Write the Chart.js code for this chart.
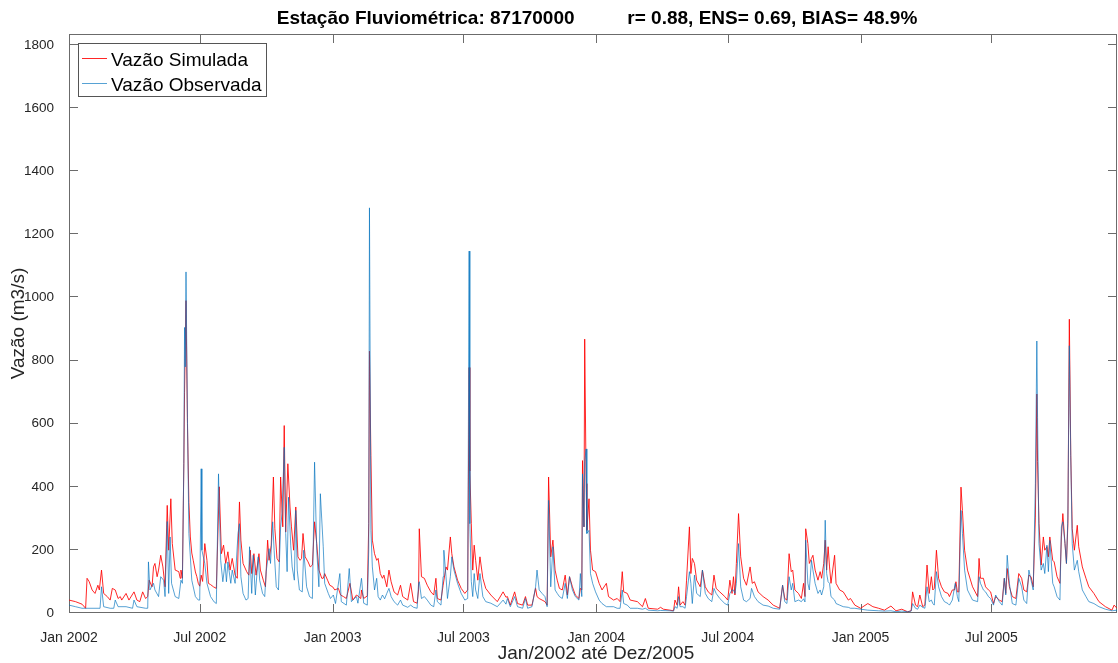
<!DOCTYPE html>
<html>
<head>
<meta charset="utf-8">
<script src="https://cdn.jsdelivr.net/npm/chart.js@4.4.0/dist/chart.umd.min.js"></script>
<style>
  html, body { margin: 0; padding: 0; background: #fff; }
  #chart { display: block; }
</style>
</head>
<body>
<canvas id="chart" width="1118" height="663"></canvas>
<script>
// dias contados a partir de 01/01/2002
const tickDays = [0, 181, 365, 546, 730, 912, 1096, 1277];
const tickLabels = ["Jan 2002", "Jul 2002", "Jan 2003", "Jul 2003", "Jan 2004", "Jul 2004", "Jan 2005", "Jul 2005"];
const yTicks = [0, 200, 400, 600, 800, 1000, 1200, 1400, 1600, 1800];

const titleText = "Estação Fluviométrica: 87170000" + " ".repeat(10) + "r= 0.88, ENS= 0.69, BIAS= 48.9%";
const xTitle = "Jan/2002 até Dez/2005";
const yTitle = "Vazão (m3/s)";
const seriesNames = ["Vazão Simulada", "Vazão Observada"];

// Vazão simulada (vermelho)
const simDays = [
  0, 9, 18, 23, 25, 28, 32, 36, 40, 42,
  45, 48, 53, 57, 60, 64, 68, 71, 73, 79,
  83, 90, 94, 98, 102, 106, 109, 111, 115, 117,
  119, 122, 124, 127, 130, 133, 136, 138, 141, 143,
  147, 152, 154, 155, 157, 159, 160, 162, 164, 166,
  168, 170, 172, 175, 177, 179, 181, 183, 185, 188,
  191, 193, 196, 200, 204, 208, 211, 214, 217, 220,
  223, 226, 230, 233, 236, 238, 241, 246, 249, 251,
  253, 256, 259, 263, 265, 269, 272, 275, 277, 280,
  283, 285, 288, 291, 293, 296, 298, 300, 303, 306,
  308, 311, 314, 317, 320, 322, 324, 327, 331, 334,
  337, 340, 343, 346, 350, 352, 354, 358, 361, 365,
  368, 373, 376, 380, 384, 389, 393, 398, 400, 404,
  405, 408, 413, 415, 416, 418, 420, 423, 426, 428,
  431, 434, 436, 440, 443, 446, 450, 455, 459, 462,
  469, 473, 477, 482, 484, 485, 488, 492, 496, 501,
  505, 508, 510, 515, 518, 522, 524, 528, 530, 533,
  538, 543, 548, 552, 554, 555, 557, 559, 561, 563,
  566, 569, 573, 577, 584, 593, 601, 605, 607, 611,
  617, 621, 628, 632, 635, 641, 646, 648, 651, 655,
  659, 662, 664, 667, 670, 673, 676, 679, 683, 687,
  690, 693, 697, 701, 706, 708, 710, 711, 713, 714,
  716, 717, 720, 722, 725, 729, 734, 738, 744, 747,
  754, 759, 763, 766, 768, 773, 777, 787, 794, 798,
  802, 815, 819, 823, 832, 837, 839, 842, 844, 846,
  850, 853, 855, 859, 861, 863, 866, 869, 874, 877,
  881, 885, 890, 893, 896, 901, 908, 912, 915, 918,
  920, 922, 924, 927, 930, 934, 938, 943, 946, 949,
  954, 961, 968, 975, 984, 988, 991, 994, 997, 1000,
  1002, 1005, 1010, 1014, 1017, 1019, 1020, 1023, 1025, 1028,
  1030, 1033, 1037, 1040, 1042, 1045, 1047, 1049, 1051, 1053,
  1055, 1060, 1062, 1067, 1072, 1079, 1082, 1088, 1096, 1106,
  1113, 1121, 1129, 1138, 1145, 1153, 1161, 1166, 1168, 1172,
  1175, 1178, 1182, 1185, 1188, 1191, 1194, 1196, 1198, 1201,
  1204, 1208, 1212, 1217, 1219, 1223, 1226, 1228, 1230, 1232,
  1235, 1237, 1240, 1244, 1251, 1258, 1260, 1262, 1266, 1269,
  1273, 1276, 1280, 1283, 1288, 1292, 1295, 1297, 1299, 1302,
  1306, 1311, 1315, 1319, 1322, 1326, 1329, 1332, 1335, 1338,
  1340, 1341, 1343, 1346, 1349, 1351, 1354, 1356, 1358, 1362,
  1364, 1368, 1372, 1374, 1376, 1379, 1381, 1383, 1385, 1387,
  1389, 1392, 1396, 1398, 1403, 1408, 1412, 1419, 1426, 1435,
  1444, 1447, 1451
];
const simValues = [
  41, 36, 28, 15, 110, 99, 73, 62, 88, 73,
  136, 62, 52, 41, 78, 73, 46, 52, 41, 62,
  41, 67, 41, 36, 67, 46, 52, 104, 83, 146,
  157, 115, 136, 183, 146, 83, 341, 199, 362, 220,
  136, 131, 110, 136, 110, 473, 700, 990, 600, 350,
  241, 190, 167, 130, 115, 94, 85, 120, 100, 220,
  167, 94, 90, 83, 78, 400, 188, 215, 157, 194,
  136, 173, 120, 110, 352, 231, 157, 131, 120, 199,
  125, 188, 120, 188, 136, 104, 83, 231, 167, 215,
  431, 267, 173, 162, 431, 273, 594, 257, 473, 336,
  273, 199, 336, 178, 167, 173, 252, 178, 162, 146,
  152, 289, 220, 136, 110, 110, 125, 104, 88, 83,
  73, 78, 57, 52, 46, 94, 41, 57, 54, 46,
  73, 46, 54, 283, 830, 500, 231, 188, 167, 173,
  125, 110, 120, 83, 136, 99, 67, 57, 88, 52,
  41, 94, 36, 31, 73, 267, 115, 110, 88, 67,
  57, 110, 46, 41, 88, 146, 136, 241, 188, 146,
  104, 78, 62, 73, 778, 450, 283, 136, 215, 167,
  104, 178, 110, 78, 57, 36, 67, 50, 52, 25,
  67, 30, 25, 52, 25, 25, 78, 52, 46, 41,
  36, 25, 431, 178, 231, 136, 104, 78, 73, 120,
  57, 115, 83, 57, 46, 78, 73, 483, 273, 868,
  410, 262, 362, 199, 136, 131, 94, 73, 94, 52,
  41, 46, 36, 131, 67, 62, 41, 36, 20, 46,
  15, 12, 18, 12, 9, 7, 41, 25, 83, 25,
  36, 25, 104, 273, 125, 173, 157, 104, 83, 136,
  83, 67, 57, 120, 78, 67, 52, 41, 104, 62,
  115, 57, 157, 315, 178, 110, 88, 146, 94, 99,
  67, 52, 41, 25, 15, 88, 46, 41, 188, 131,
  136, 73, 62, 46, 94, 52, 267, 220, 157, 173,
  183, 136, 104, 131, 110, 157, 231, 136, 210, 146,
  94, 183, 94, 73, 67, 41, 46, 25, 15, 30,
  20, 15, 9, 22, 7, 12, 4, 7, 67, 25,
  20, 57, 20, 25, 152, 62, 115, 73, 78, 199,
  110, 83, 67, 62, 52, 73, 73, 99, 67, 67,
  399, 325, 199, 136, 83, 52, 173, 110, 110, 83,
  73, 67, 30, 52, 41, 36, 110, 62, 141, 83,
  52, 46, 125, 110, 73, 67, 120, 115, 83, 304,
  694, 480, 283, 152, 241, 199, 210, 178, 241, 167,
  162, 115, 94, 241, 315, 220, 157, 283, 931, 500,
  267, 199, 278, 210, 146, 110, 83, 62, 36, 20,
  9, 25, 15
];

// Vazão observada (azul)
const obsDays = [
  0, 9, 18, 25, 36, 43, 45, 48, 57, 62,
  64, 68, 79, 88, 90, 94, 106, 109, 110, 112,
  117, 119, 124, 127, 131, 133, 136, 138, 140, 142,
  147, 152, 155, 157, 159, 160, 161, 162, 164, 166,
  170, 175, 179, 181, 183, 184, 188, 191, 196, 201,
  204, 207, 210, 213, 216, 218, 220, 224, 226, 230,
  234, 236, 238, 241, 245, 248, 250, 253, 255, 258,
  262, 264, 268, 271, 273, 277, 279, 282, 284, 287,
  290, 293, 295, 298, 300, 302, 304, 307, 309, 312,
  314, 316, 319, 323, 325, 329, 333, 337, 340, 343,
  346, 348, 352, 354, 359, 362, 366, 369, 375, 377,
  384, 388, 391, 398, 400, 405, 408, 413, 415, 416,
  418, 420, 423, 426, 428, 431, 434, 437, 440, 443,
  446, 450, 455, 459, 462, 469, 473, 477, 482, 484,
  485, 488, 492, 496, 501, 505, 508, 510, 515, 518,
  519, 522, 524, 528, 530, 533, 538, 543, 548, 552,
  554, 555, 557, 559, 561, 563, 566, 569, 573, 577,
  584, 593, 601, 605, 607, 611, 617, 621, 628, 632,
  635, 641, 646, 648, 651, 655, 659, 662, 664, 667,
  670, 673, 676, 679, 683, 687, 690, 693, 697, 701,
  706, 708, 710, 711, 713, 714, 716, 717, 720, 722,
  725, 729, 734, 738, 744, 754, 759, 763, 766, 768,
  773, 777, 787, 794, 798, 802, 815, 819, 832, 837,
  839, 842, 844, 846, 850, 853, 855, 859, 861, 863,
  866, 869, 874, 877, 881, 885, 890, 893, 896, 901,
  908, 912, 915, 918, 920, 922, 924, 927, 930, 934,
  938, 943, 945, 949, 954, 961, 968, 975, 984, 988,
  991, 994, 997, 1000, 1002, 1005, 1010, 1014, 1017, 1019,
  1020, 1023, 1025, 1028, 1030, 1033, 1037, 1040, 1042, 1045,
  1047, 1049, 1051, 1053, 1055, 1060, 1062, 1067, 1072, 1079,
  1082, 1088, 1096, 1106, 1121, 1129, 1138, 1145, 1153, 1161,
  1166, 1168, 1172, 1175, 1178, 1182, 1185, 1188, 1191, 1194,
  1196, 1198, 1201, 1204, 1208, 1212, 1217, 1219, 1223, 1227,
  1230, 1232, 1235, 1237, 1240, 1244, 1251, 1258, 1260, 1262,
  1266, 1269, 1273, 1276, 1280, 1283, 1288, 1292, 1295, 1297,
  1299, 1302, 1306, 1311, 1315, 1319, 1322, 1326, 1329, 1332,
  1335, 1338, 1340, 1341, 1343, 1346, 1349, 1351, 1354, 1356,
  1358, 1362, 1364, 1368, 1372, 1374, 1376, 1379, 1381, 1383,
  1385, 1387, 1389, 1392, 1396, 1398, 1403, 1408, 1412, 1419,
  1426, 1435, 1444, 1451
];
const obsValues = [
  25, 20, 15, 15, 15, 15, 83, 20, 15, 15,
  41, 20, 20, 15, 41, 20, 15, 15, 162, 73,
  94, 73, 52, 115, 104, 52, 290, 62, 241, 94,
  52, 46, 104, 94, 473, 905, 780, 1081, 620, 252,
  104, 52, 41, 41, 457, 199, 157, 94, 52, 35,
  30, 441, 167, 99, 157, 99, 162, 94, 136, 94,
  252, 283, 115, 62, 41, 46, 210, 62, 183, 57,
  178, 104, 62, 52, 131, 204, 157, 289, 199, 83,
  73, 273, 315, 525, 252, 131, 367, 215, 146, 104,
  325, 136, 73, 67, 199, 83, 52, 46, 478, 199,
  83, 378, 210, 94, 62, 46, 57, 30, 125, 36,
  25, 141, 36, 52, 31, 110, 31, 25, 200, 1284,
  262, 146, 73, 110, 52, 41, 57, 45, 62, 78,
  52, 36, 25, 41, 25, 18, 25, 18, 15, 94,
  99, 46, 52, 41, 25, 20, 73, 36, 25, 115,
  199, 115, 46, 115, 178, 136, 94, 62, 41, 46,
  1147, 283, 100, 52, 125, 73, 46, 125, 52, 36,
  31, 20, 41, 28, 46, 20, 52, 20, 15, 46,
  15, 20, 83, 136, 73, 62, 52, 20, 357, 83,
  210, 73, 62, 52, 46, 94, 46, 115, 73, 52,
  41, 125, 52, 441, 273, 480, 520, 252, 262, 125,
  94, 67, 41, 30, 20, 20, 15, 15, 73, 30,
  25, 15, 15, 12, 15, 9, 7, 8, 7, 6,
  20, 15, 52, 20, 20, 15, 52, 131, 94, 30,
  120, 62, 52, 136, 62, 46, 36, 78, 62, 46,
  30, 25, 62, 73, 73, 62, 94, 220, 83, 41,
  36, 46, 78, 52, 36, 25, 22, 15, 12, 88,
  36, 30, 115, 73, 94, 36, 41, 36, 45, 35,
  231, 94, 73, 167, 136, 94, 62, 73, 57, 83,
  294, 125, 99, 94, 52, 41, 30, 25, 20, 18,
  15, 15, 12, 9, 7, 6, 7, 4, 6, 4,
  6, 30, 15, 12, 25, 18, 15, 83, 36, 41,
  30, 25, 131, 83, 52, 36, 30, 25, 41, 94,
  52, 36, 325, 252, 136, 73, 41, 36, 115, 94,
  73, 67, 52, 46, 25, 57, 36, 25, 110, 57,
  183, 94, 30, 25, 110, 83, 41, 30, 136, 104,
  73, 410, 862, 620, 220, 136, 157, 125, 215, 131,
  230, 94, 83, 52, 41, 273, 289, 220, 157, 304,
  847, 494, 220, 136, 167, 131, 73, 52, 36, 30,
  20, 12, 7, 9
];

const simColor = "rgba(255, 0, 0, 0.85)";
const obsColor = "rgba(0, 114, 189, 0.66)";
const axisColor = "#6b6b6b";
const FONT = "'Liberation Sans', Arial, Helvetica, sans-serif";

function toPoints(days, values) {
  const n = Math.min(days.length, values.length);
  const pts = [];
  for (let i = 0; i < n; i++) pts.push({ x: days[i], y: values[i] });
  return pts;
}

// moldura estilo MATLAB, com ticks para dentro
const framePlugin = {
  id: "frame",
  beforeDatasetsDraw(chart) {
    const { ctx, chartArea: a, scales } = chart;
    ctx.save();
    ctx.strokeStyle = axisColor;
    ctx.lineWidth = 1;
    ctx.strokeRect(a.left + 0.5, a.top + 0.5, a.right - a.left - 1, a.bottom - a.top - 1);
    ctx.beginPath();
    tickDays.forEach(d => {
      const x = Math.round(scales.x.getPixelForValue(d)) + 0.5;
      ctx.moveTo(x, a.bottom); ctx.lineTo(x, a.bottom - 9);
      ctx.moveTo(x, a.top); ctx.lineTo(x, a.top + 9);
    });
    yTicks.forEach(v => {
      const y = Math.round(scales.y.getPixelForValue(v)) - 0.5;
      ctx.moveTo(a.left, y); ctx.lineTo(a.left + 9, y);
      ctx.moveTo(a.right, y); ctx.lineTo(a.right - 9, y);
    });
    ctx.stroke();
    ctx.restore();
  },
  afterDraw(chart) {
    const { ctx, chartArea: a } = chart;
    ctx.save();
    // titulo
    ctx.fillStyle = "#000";
    ctx.font = "bold 19px " + FONT;
    ctx.textAlign = "center";
    ctx.textBaseline = "alphabetic";
    ctx.fillText(titleText, 597, 24);

    // rotulos dos eixos
    ctx.fillStyle = "#262626";
    ctx.font = "19px " + FONT;
    ctx.fillText(xTitle, 596, 659);
    ctx.save();
    ctx.translate(24, (a.top + a.bottom) / 2);
    ctx.rotate(-Math.PI / 2);
    ctx.fillText(yTitle, 0, 0);
    ctx.restore();

    // legenda
    ctx.fillStyle = "#fff";
    ctx.fillRect(79, 44, 187, 52);
    ctx.strokeStyle = "#555";
    ctx.lineWidth = 1;
    ctx.strokeRect(78.5, 43.5, 188, 53);
    const rows = [[seriesNames[0], simColor, 58.5, 65.5], [seriesNames[1], obsColor, 83.5, 90.5]];
    ctx.textAlign = "left";
    rows.forEach(([name, color, ly, ty]) => {
      ctx.strokeStyle = color;
      ctx.beginPath();
      ctx.moveTo(82, ly); ctx.lineTo(107, ly);
      ctx.stroke();
      ctx.fillStyle = "#000";
      ctx.fillText(name, 111, ty);
    });
    ctx.restore();
  }
};

const ctx = document.getElementById("chart").getContext("2d");
new Chart(ctx, {
  type: "line",
  data: {
    datasets: [
      {
        label: seriesNames[0],
        data: toPoints(simDays, simValues),
        borderColor: simColor,
        borderWidth: 1,
        pointRadius: 0,
        tension: 0,
        order: 2
      },
      {
        label: seriesNames[1],
        data: toPoints(obsDays, obsValues),
        borderColor: obsColor,
        borderWidth: 1,
        pointRadius: 0,
        tension: 0,
        order: 1
      }
    ]
  },
  options: {
    responsive: false,
    animation: false,
    devicePixelRatio: 1,
    layout: { padding: { top: 34, right: 1, left: 0, bottom: 0 } },
    plugins: {
      legend: { display: false },
      tooltip: { enabled: false },
      title: { display: false }
    },
    scales: {
      x: {
        type: "linear",
        min: 0,
        max: 1451,
        grid: { display: false },
        border: { display: false },
        afterBuildTicks: scale => { scale.ticks = tickDays.map(v => ({ value: v })); },
        afterFit: scale => { scale.height = 50; },
        ticks: {
          autoSkip: false,
          maxRotation: 0,
          minRotation: 0,
          padding: 9,
          color: "#262626",
          font: { family: FONT, size: 14 },
          callback: value => tickLabels[tickDays.indexOf(value)]
        }
      },
      y: {
        type: "linear",
        min: 0,
        max: 1835,
        grid: { display: false },
        border: { display: false },
        afterBuildTicks: scale => { scale.ticks = yTicks.map(v => ({ value: v })); },
        afterFit: scale => { scale.width = 69; },
        ticks: {
          padding: 7,
          color: "#262626",
          font: { family: FONT, size: 13.5 },
          callback: value => String(value)
        }
      }
    }
  },
  plugins: [framePlugin]
});
</script>
</body>
</html>
